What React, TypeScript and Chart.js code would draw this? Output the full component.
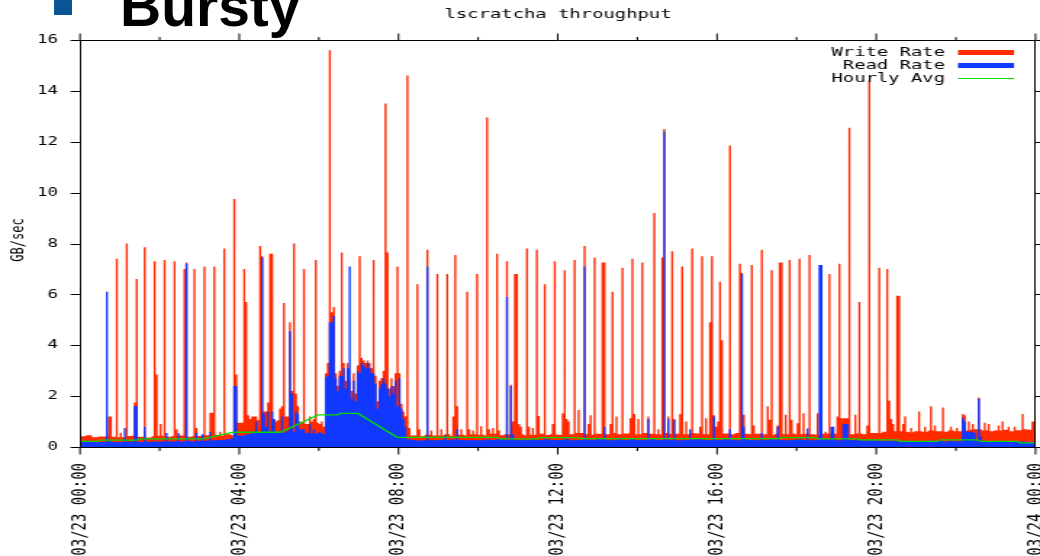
import React, { useEffect, useRef } from "react";
import { Chart, registerables } from "chart.js";

Chart.register(...registerables);

// ---------------- data ----------------
const TITLE = "lscratcha throughput";
const Y_TITLE = "GB/sec";
const X_TICK_MIN = [0, 240, 480, 720, 960, 1200, 1440];
const X_TICK_LABELS = [
  "03/23 00:00",
  "03/23 04:00",
  "03/23 08:00",
  "03/23 12:00",
  "03/23 16:00",
  "03/23 20:00",
  "03/24 00:00",
];
const Y_MIN = 0;
const Y_MAX = 16;
const Y_STEP = 2;
const SLOT_MIN = 3; // sample interval (minutes)
const BASE_MIN = 10; // base level interval (minutes)
const BURST_START = 372; // 06:12

// write rate base level, one value per 10 minutes (24 rows x 6)
const WRITE_BASE = [
  0.42, 0.46, 0.38, 0.41, 0.44, 0.4,
  0.38, 0.43, 0.45, 0.4, 0.37, 0.42,
  0.44, 0.4, 0.43, 0.45, 0.4, 0.42,
  0.43, 0.46, 0.48, 0.44, 0.5, 0.46,
  0.95, 1.1, 1.2, 1.05, 1.25, 1.15,
  1.05, 1.2, 1.05, 0.95, 0.9, 1.0,
  0.95, 1.0, 3.0, 3.0, 3.0, 3.0,
  3.0, 3.0, 3.0, 3.0, 3.0, 3.0,
  1.2, 0.5, 0.45, 0.42, 0.48, 0.45,
  0.45, 0.5, 0.42, 0.48, 0.45, 0.5,
  0.48, 0.45, 0.52, 0.46, 0.5, 0.47,
  0.5, 0.46, 0.48, 0.52, 0.47, 0.5,
  0.48, 0.52, 0.5, 0.55, 0.5, 0.48,
  0.52, 0.5, 0.55, 0.5, 0.53, 0.5,
  0.5, 0.55, 0.52, 0.5, 0.55, 0.52,
  0.52, 0.5, 0.55, 0.53, 0.5, 0.55,
  0.5, 0.53, 0.5, 0.55, 0.52, 0.5,
  0.52, 0.5, 0.48, 0.52, 0.5, 0.53,
  0.5, 0.52, 0.5, 0.48, 0.52, 0.55,
  0.52, 0.55, 0.5, 0.53, 0.5, 0.55,
  0.55, 0.6, 0.58, 0.62, 0.6, 0.58,
  0.62, 0.6, 0.65, 0.62, 0.6, 0.65,
  0.62, 0.65, 0.68, 0.7, 0.65, 0.62,
  0.65, 0.68, 0.62, 0.66, 0.7, 0.68,
];

// read rate base level, one value per 10 minutes (24 rows x 6)
const READ_BASE = [
  0.2, 0.21, 0.19, 0.2, 0.22, 0.2,
  0.2, 0.22, 0.21, 0.2, 0.21, 0.22,
  0.22, 0.21, 0.23, 0.22, 0.24, 0.22,
  0.24, 0.25, 0.27, 0.28, 0.3, 0.35,
  0.45, 0.5, 0.6, 0.55, 0.62, 0.5,
  0.55, 0.62, 0.58, 0.7, 0.55, 0.52,
  0.55, 0.55, 2.8, 2.8, 2.8, 2.8,
  2.8, 2.8, 2.8, 2.8, 2.8, 2.8,
  1.0, 0.3, 0.28, 0.26, 0.28, 0.27,
  0.28, 0.27, 0.29, 0.28, 0.27, 0.28,
  0.27, 0.29, 0.28, 0.3, 0.28, 0.27,
  0.28, 0.27, 0.29, 0.28, 0.3, 0.28,
  0.28, 0.3, 0.27, 0.28, 0.29, 0.28,
  0.3, 0.28, 0.27, 0.29, 0.28, 0.3,
  0.28, 0.27, 0.3, 0.28, 0.29, 0.28,
  0.27, 0.28, 0.29, 0.3, 0.28, 0.27,
  0.28, 0.3, 0.28, 0.27, 0.29, 0.28,
  0.27, 0.28, 0.3, 0.28, 0.27, 0.28,
  0.29, 0.28, 0.27, 0.28, 0.3, 0.28,
  0.27, 0.28, 0.28, 0.27, 0.26, 0.27,
  0.25, 0.24, 0.25, 0.23, 0.24, 0.25,
  0.24, 0.23, 0.25, 0.24, 0.22, 0.24,
  0.23, 0.24, 0.25, 0.24, 0.23, 0.22,
  0.22, 0.23, 0.22, 0.21, 0.22, 0.2,
];

// 06:12 - 08:12 burst, every 3 minutes
const BURST_WRITE = [
  2.9, 3.3, 15.6, 5.3, 5.5, 2.9, 2.4, 3.0, 7.65, 3.3,
  2.6, 3.3, 2.6, 2.2, 2.9, 2.1, 3.2, 7.5, 3.5, 3.4,
  3.3, 3.4, 3.3, 3.1, 7.35, 2.8, 1.8, 2.6, 2.7, 3.0,
  13.5, 7.65, 2.3, 2.7, 2.4, 2.9, 7.1, 2.9, 1.7, 1.4,
  1.2,
];
const BURST_READ = [
  2.75, 2.8, 4.9, 4.9, 5.15, 2.7, 2.2, 2.8, 2.8, 3.1,
  2.3, 3.1, 7.1, 1.9, 2.6, 1.8, 3.0, 2.9, 3.3, 3.2,
  3.1, 3.3, 3.1, 2.9, 2.9, 2.5, 1.5, 2.3, 2.5, 2.7,
  2.5, 2.3, 2.0, 2.4, 2.1, 2.6, 1.6, 2.7, 1.5, 1.1,
  0.8,
];

// [minute of day, GB/sec]
const WRITE_SPIKES: [number, number][] = [
  [45, 1.2], [48, 1.2], [57, 7.4], [63, 0.55], [72, 8.0], [84, 1.75], [87, 6.6],
  [99, 7.85], [114, 7.3], [117, 2.85], [123, 0.9], [129, 7.35], [144, 7.3],
  [147, 0.7], [159, 7.0], [162, 7.25], [174, 7.0], [177, 0.75], [189, 7.1],
  [198, 1.35], [201, 1.35], [204, 7.1], [213, 0.6], [219, 7.8], [234, 9.75],
  [237, 2.85], [249, 7.0], [252, 5.7], [255, 1.25], [264, 1.2], [273, 7.9],
  [276, 7.5], [279, 1.4], [282, 1.4], [285, 1.75], [288, 7.6], [291, 7.6],
  [294, 1.1], [297, 1.0], [303, 1.5], [306, 1.6], [309, 5.66], [312, 1.2],
  [318, 4.9], [321, 2.2], [324, 8.0], [327, 2.1], [330, 1.6], [333, 1.0],
  [339, 7.0], [348, 1.2], [354, 1.1], [357, 7.35], [363, 0.9], [366, 1.0],
  [369, 0.8],
  [495, 14.6], [498, 0.75], [510, 6.4], [513, 0.7], [525, 7.75], [531, 0.65],
  [540, 6.8], [546, 0.7], [555, 6.8], [564, 1.2], [567, 7.55], [570, 1.6],
  [576, 0.7], [585, 6.1], [588, 0.7], [594, 0.65], [600, 6.8], [606, 0.82],
  [615, 12.95], [618, 0.7], [624, 0.75], [630, 7.6], [633, 0.65], [645, 7.3],
  [651, 2.45], [654, 1.0], [657, 6.8], [660, 6.8], [663, 0.9], [666, 0.8],
  [675, 7.8], [678, 0.8], [684, 0.75], [690, 7.75], [693, 1.22], [702, 6.4],
  [714, 0.9], [717, 7.3],
  [729, 1.33], [732, 6.95], [735, 1.1], [738, 1.0], [747, 7.35], [753, 1.45],
  [762, 7.9], [768, 0.9], [771, 1.25], [777, 7.45], [789, 7.25], [792, 7.25],
  [801, 0.9], [804, 6.1], [810, 1.2], [819, 7.05], [831, 1.13], [834, 7.4],
  [837, 1.3], [843, 1.1], [849, 7.25], [858, 1.2], [867, 9.2], [873, 0.7],
  [879, 7.45], [882, 12.5], [888, 1.2], [894, 7.7], [897, 1.1], [906, 1.3],
  [909, 7.1], [915, 1.0], [924, 7.8], [936, 0.8], [939, 7.5], [945, 1.13],
  [951, 4.9], [954, 7.5], [957, 1.25], [960, 0.8], [963, 1.0],
  [966, 6.5], [969, 4.2], [981, 11.85], [996, 7.2], [999, 6.85], [1002, 1.27],
  [1014, 7.15], [1017, 0.85], [1029, 7.75], [1038, 1.6], [1041, 1.07],
  [1044, 6.95], [1053, 0.85], [1056, 7.25], [1059, 7.25], [1065, 1.27],
  [1071, 7.35], [1074, 1.07], [1083, 0.93], [1086, 7.4], [1092, 1.33],
  [1101, 7.55], [1113, 1.33], [1125, 0.6], [1131, 6.8], [1143, 1.2],
  [1146, 7.2], [1149, 1.13], [1152, 1.13], [1155, 1.13], [1158, 1.13],
  [1161, 12.55], [1170, 1.27], [1176, 5.7], [1188, 0.85], [1191, 14.4],
  [1206, 7.05], [1218, 7.0], [1221, 1.82], [1224, 1.1], [1227, 0.9],
  [1233, 5.95], [1236, 5.95], [1242, 0.9], [1245, 1.2], [1254, 0.75],
  [1266, 1.4], [1275, 0.8], [1284, 1.6], [1290, 0.85], [1302, 1.55],
  [1314, 0.8], [1323, 0.75], [1332, 1.3], [1335, 1.25], [1341, 1.0],
  [1347, 0.9], [1356, 1.95], [1365, 0.95], [1371, 0.9], [1386, 0.85],
  [1392, 1.0], [1401, 0.8], [1410, 0.8], [1422, 1.3], [1437, 1.0],
];

const READ_SPIKES: [number, number][] = [
  [42, 6.1], [69, 0.75], [84, 1.6], [87, 1.6], [99, 0.8], [132, 0.55],
  [150, 0.55], [162, 7.2], [177, 0.55], [186, 0.5], [198, 0.6], [234, 2.4],
  [237, 2.4], [264, 0.6], [267, 1.0], [276, 7.45], [279, 1.3], [282, 0.8],
  [285, 1.4], [291, 1.4], [294, 1.1], [297, 0.6], [306, 1.2], [318, 4.55],
  [321, 2.1], [327, 1.4], [330, 1.3], [348, 0.9], [354, 0.7], [363, 0.6],
  [369, 0.5],
  [525, 7.1], [552, 0.45], [570, 0.7], [645, 5.9], [651, 2.4], [654, 0.5],
  [762, 7.1], [792, 0.8], [858, 1.1], [882, 12.4], [888, 1.1], [897, 1.07],
  [921, 0.7], [957, 1.2], [981, 0.7], [999, 6.8], [1002, 0.8], [1029, 0.55],
  [1053, 0.8], [1098, 0.73], [1116, 7.15], [1119, 7.15], [1134, 0.8],
  [1137, 0.8], [1152, 0.9], [1155, 0.9], [1158, 0.9],
  [1332, 1.15], [1335, 1.0], [1338, 0.6], [1341, 0.6], [1344, 0.6],
  [1347, 0.6], [1350, 0.55], [1356, 1.9], [1359, 0.4],
];

// hourly average line
const GREEN_MIN = [
  0, 27, 30, 87, 90, 186, 231, 302, 359, 389, 392, 419, 478, 629, 633, 689,
  693, 750, 754, 1054, 1058, 1108, 1112, 1172, 1176, 1232, 1236, 1292, 1296,
  1353, 1357, 1413, 1417, 1440,
];
const GREEN_VAL = [
  0.22, 0.22, 0.27, 0.27, 0.32, 0.32, 0.58, 0.58, 1.26, 1.26, 1.32, 1.32,
  0.38, 0.38, 0.32, 0.32, 0.37, 0.37, 0.33, 0.33, 0.37, 0.37, 0.32, 0.32,
  0.28, 0.28, 0.22, 0.22, 0.28, 0.28, 0.22, 0.22, 0.16, 0.16,
];

// ---------------- look ----------------
const RED = "#ff2a00";
const BLUE = "#1038ff";
const GREEN = "#00dc00";
const FONT = "'DejaVu Sans Mono', monospace";
const CANVAS_W = 717;
const CANVAS_H = 556;
const STRETCH = 1040 / CANVAS_W;
const fx = (x: number) => x / STRETCH;

function buildSeries(base: number[], burst: number[], spikes: [number, number][]) {
  const over = new Map<number, number>();
  spikes.forEach(([m, v]) => over.set(Math.round(m / SLOT_MIN), v));
  const pts: { x: number; y: number }[] = [];
  const n = 1440 / SLOT_MIN;
  for (let i = 0; i < n; i++) {
    const m = i * SLOT_MIN;
    let v = base[Math.floor(m / BASE_MIN)];
    const b = (m - BURST_START) / SLOT_MIN;
    if (b >= 0 && b < burst.length) v = burst[b];
    if (over.has(i)) v = over.get(i) as number;
    pts.push({ x: m, y: v });
  }
  pts.push({ x: 1440, y: pts[pts.length - 1].y });
  return pts;
}

const decorPlugin = {
  id: "decor",
  afterDraw(chart: any) {
    const { ctx, chartArea: a, scales } = chart;
    const xs = scales.x;
    const ys = scales.y;
    ctx.save();
    ctx.strokeStyle = "#000";
    ctx.lineWidth = 1;
    const t = Math.round(a.top) + 0.5;
    const b = Math.round(a.bottom) + 0.5;
    const l = Math.round(a.left) + 0.5;
    const r = Math.round(a.right) - 0.5;
    ctx.beginPath();
    ctx.rect(l, t, r - l, b - t);
    for (let m = 0; m <= 1440; m += 120) {
      const x = xs.getPixelForValue(m);
      const len = m % 240 === 0 ? 7 : 3.5;
      ctx.moveTo(x, b);
      ctx.lineTo(x, b + len);
      ctx.moveTo(x, t);
      ctx.lineTo(x, t - len);
    }
    for (let v = Y_MIN; v <= Y_MAX; v += Y_STEP) {
      const y = Math.round(ys.getPixelForValue(v)) + 0.5;
      ctx.moveTo(l - fx(10), y);
      ctx.lineTo(l, y);
      ctx.moveTo(r, y);
      ctx.lineTo(r + fx(8), y);
    }
    ctx.stroke();

    ctx.fillStyle = "#000";
    ctx.textBaseline = "middle";
    ctx.textAlign = "center";
    ctx.font = `13px ${FONT}`;
    ctx.fillText(TITLE, fx(558), 15);

    ctx.save();
    ctx.translate(fx(18), 240);
    ctx.rotate(-Math.PI / 2);
    ctx.font = `12px ${FONT}`;
    ctx.fillText(Y_TITLE, 0, 0);
    ctx.restore();

    // legend
    const rows = [52.5, 65.5, 78.5];
    ctx.font = `13px ${FONT}`;
    ctx.textAlign = "right";
    chart.data.datasets.forEach((ds: any, i: number) => {
      const y = rows[i];
      ctx.fillStyle = "#000";
      ctx.fillText(ds.label, fx(945), y);
      ctx.beginPath();
      ctx.strokeStyle = ds.legendColor;
      ctx.lineWidth = ds.legendWidth;
      ctx.moveTo(fx(958), y);
      ctx.lineTo(fx(1014), y);
      ctx.stroke();
    });
    ctx.restore();
  },
};

export default function App() {
  const ref = useRef<HTMLCanvasElement | null>(null);

  useEffect(() => {
    if (!ref.current) return;
    const writePts = buildSeries(WRITE_BASE, BURST_WRITE, WRITE_SPIKES);
    const readPts = buildSeries(READ_BASE, BURST_READ, READ_SPIKES);
    const greenPts = GREEN_MIN.map((m, i) => ({ x: m, y: GREEN_VAL[i] }));

    const chart = new Chart(ref.current, {
      type: "line",
      data: {
        datasets: [
          {
            label: "Write Rate",
            data: writePts,
            stepped: "after",
            fill: "origin",
            backgroundColor: RED,
            borderColor: "rgba(0,0,0,0)",
            borderWidth: 0,
            pointRadius: 0,
            order: 3,
            legendColor: RED,
            legendWidth: 5,
          } as any,
          {
            label: "Read Rate",
            data: readPts,
            stepped: "after",
            fill: "origin",
            backgroundColor: BLUE,
            borderColor: "rgba(0,0,0,0)",
            borderWidth: 0,
            pointRadius: 0,
            order: 2,
            legendColor: BLUE,
            legendWidth: 5,
          } as any,
          {
            label: "Hourly Avg",
            data: greenPts,
            fill: false,
            borderColor: GREEN,
            borderWidth: 1.3,
            pointRadius: 0,
            tension: 0,
            order: 1,
            legendColor: GREEN,
            legendWidth: 1,
          } as any,
        ],
      },
      options: {
        animation: false,
        responsive: false,
        devicePixelRatio: 1,
        events: [],
        layout: { padding: { top: 40, right: CANVAS_W - fx(1035.5), left: 0, bottom: 0 } },
        plugins: {
          legend: { display: false },
          tooltip: { enabled: false },
          title: { display: false },
        },
        scales: {
          x: {
            type: "linear",
            min: 0,
            max: 1440,
            afterBuildTicks: (s: any) => {
              s.ticks = X_TICK_MIN.map((v) => ({ value: v }));
            },
            afterFit: (s: any) => {
              s.height = CANVAS_H - 447;
              s.paddingLeft = 0;
              s.paddingRight = 0;
            },
            grid: { display: false, drawTicks: false },
            border: { display: false },
            ticks: {
              autoSkip: false,
              minRotation: 90,
              maxRotation: 90,
              padding: 16,
              color: "#000",
              font: { family: FONT, size: 14 },
              callback: (v: any) => {
                const i = X_TICK_MIN.indexOf(Number(v));
                return i >= 0 ? X_TICK_LABELS[i] : "";
              },
            },
          },
          y: {
            min: Y_MIN,
            max: Y_MAX,
            afterFit: (s: any) => {
              s.width = fx(80);
              s.paddingTop = 0;
              s.paddingBottom = 0;
            },
            grid: { display: false, drawTicks: false },
            border: { display: false },
            ticks: {
              stepSize: Y_STEP,
              padding: fx(80) - fx(58),
              color: "#000",
              font: { family: FONT, size: 12 },
            },
          },
        },
      } as any,
      plugins: [decorPlugin],
    });
    return () => chart.destroy();
  }, []);

  return (
    <div
      style={{
        position: "absolute",
        left: 0,
        top: 0,
        width: 1040,
        height: 556,
        overflow: "hidden",
        background: "#fff",
      }}
    >
      <canvas
        ref={ref}
        width={CANVAS_W}
        height={CANVAS_H}
        style={{ width: "1040px", height: "556px", display: "block" }}
      />
      <div
        style={{
          position: "absolute",
          left: 54,
          top: 0,
          width: 18,
          height: 15,
          background: "#0a5596",
        }}
      />
      <div
        style={{
          position: "absolute",
          left: 120,
          top: -22,
          font: "bold 57px 'Liberation Sans', Arial, sans-serif",
          lineHeight: "57px",
          color: "#000",
          whiteSpace: "nowrap",
        }}
      >
        Bursty
      </div>
    </div>
  );
}
